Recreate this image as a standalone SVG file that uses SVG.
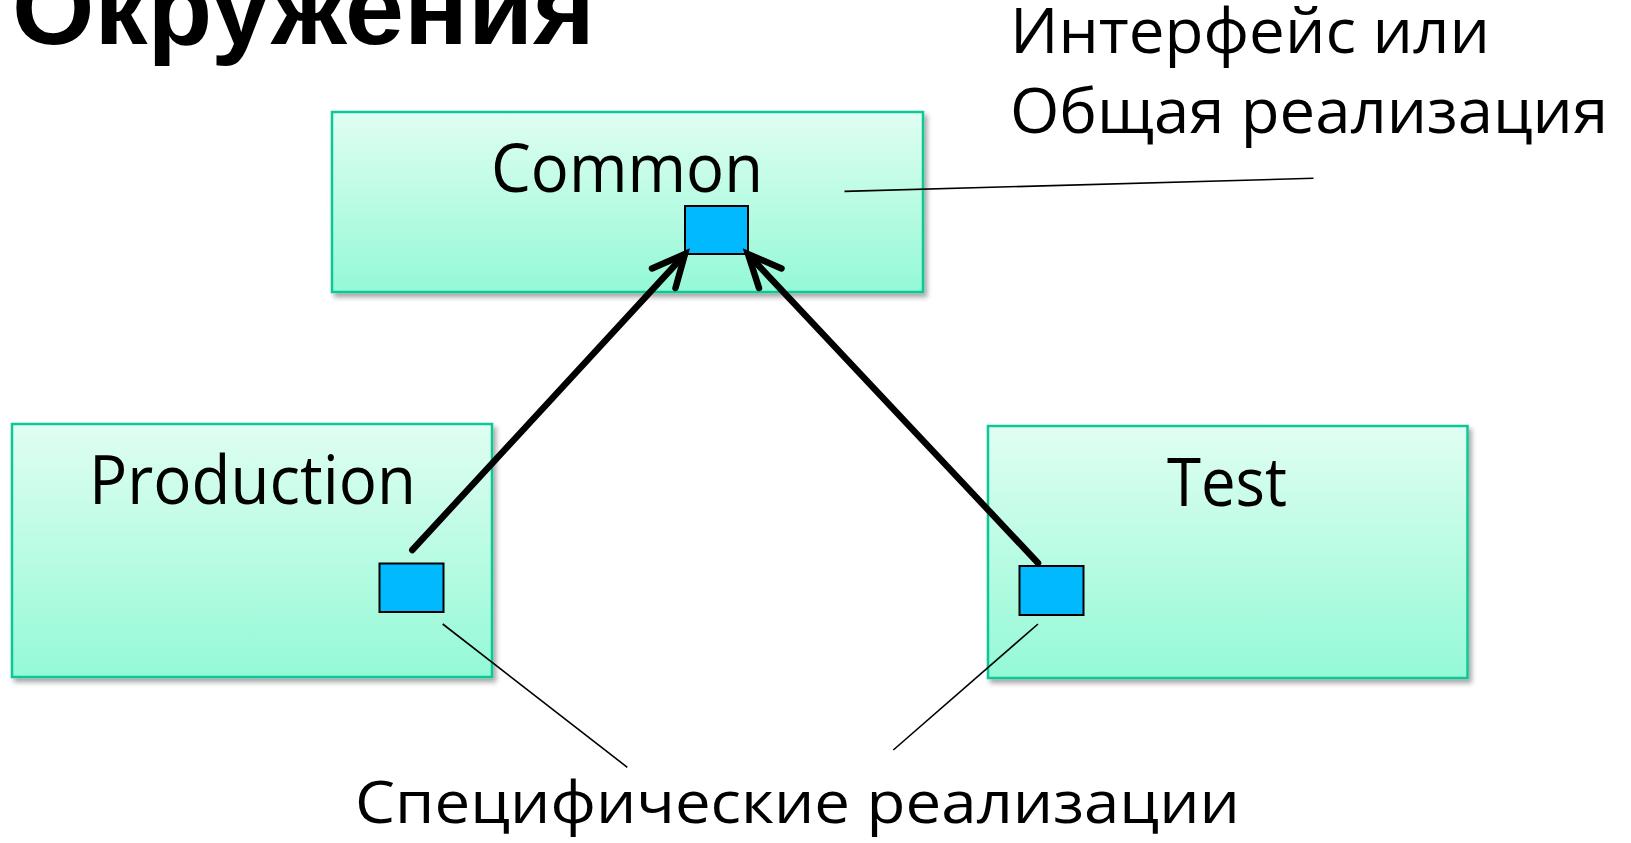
<svg xmlns="http://www.w3.org/2000/svg" width="1631" height="843" viewBox="0 0 1631 843">
<defs>
<linearGradient id="g" x1="0" y1="0" x2="0" y2="1">
<stop offset="0" stop-color="#E0FEF2"/>
<stop offset="1" stop-color="#94F9D6"/>
</linearGradient>
<filter id="sh" x="-5%" y="-5%" width="112%" height="115%">
<feDropShadow dx="3" dy="4" stdDeviation="2.5" flood-color="#000" flood-opacity="0.35"/>
</filter>
</defs>
<style>
.box{fill:url(#g);stroke:#10C896;stroke-width:2.5;filter:url(#sh)}
.port{fill:#00B9FF;stroke:#000;stroke-width:2}
.lbl{font-family:"Open Sans","Noto Sans","DejaVu Sans",sans-serif;fill:#000}
.thin{stroke:#000;stroke-width:1.6;fill:none}
.arr{stroke:#000;stroke-width:6.5;fill:none;stroke-linecap:round;stroke-linejoin:miter}
.title{font-family:"Liberation Sans",Arial,sans-serif;font-weight:bold;fill:#000}
</style>
<rect width="1631" height="843" fill="#fff"/>
<text class="title" x="12" y="44" font-size="104" textLength="583" lengthAdjust="spacingAndGlyphs">Окружения</text>
<g id="common">
<rect class="box" x="332" y="112" width="591" height="180"/>
<text class="lbl" x="491" y="191.7" font-size="67" textLength="272" lengthAdjust="spacingAndGlyphs">Common</text>
<rect class="port" x="685" y="206" width="63" height="48"/>
</g>
<g id="production">
<rect class="box" x="12" y="424" width="480" height="253"/>
<text class="lbl" x="89" y="504.3" font-size="67" textLength="327" lengthAdjust="spacingAndGlyphs">Production</text>
<rect class="port" x="379.5" y="563.5" width="64" height="48.5"/>
</g>
<g id="test">
<rect class="box" x="988" y="426" width="479.5" height="252"/>
<text class="lbl" x="1167" y="506" font-size="67" textLength="120" lengthAdjust="spacingAndGlyphs">Test</text>
<rect class="port" x="1019.5" y="566" width="64" height="49"/>
</g>
<g id="note-common">
<text class="lbl" x="1010" y="53.3" font-size="63" textLength="480" lengthAdjust="spacingAndGlyphs">Интерфейс или</text>
<text class="lbl" x="1010" y="133.3" font-size="63" textLength="598" lengthAdjust="spacingAndGlyphs">Общая реализация</text>
</g>
<g id="note-specific">
<text class="lbl" x="355" y="823.3" font-size="59" textLength="885" lengthAdjust="spacingAndGlyphs">Специфические реализации</text>
</g>
<g id="connectors">
<line class="thin" x1="844.5" y1="191.4" x2="1313.5" y2="178.3"/>
<line class="thin" x1="442.7" y1="624" x2="627.3" y2="767.3"/>
<line class="thin" x1="1038" y1="624" x2="893.3" y2="750"/>
<line class="arr" x1="412.3" y1="550" x2="682" y2="257.5"/>
<path class="arr" d="M652 268.5 L685 254 L675.5 288"/>
<line class="arr" x1="1038" y1="563" x2="751" y2="257.5"/>
<path class="arr" d="M781.5 268.5 L748 254 L759 288"/>
</g>
</svg>
